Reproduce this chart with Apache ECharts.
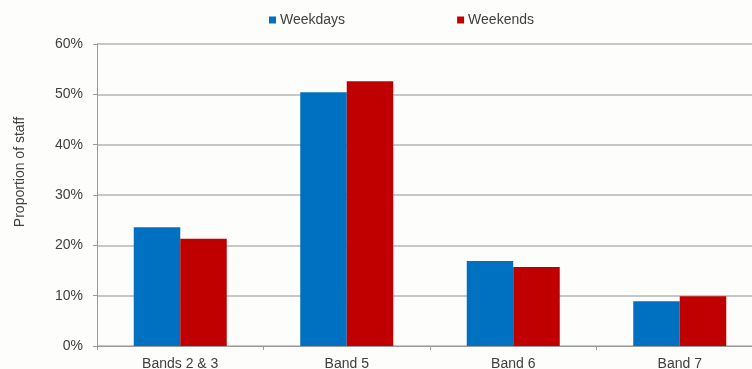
<!DOCTYPE html>
<html>
<head>
<meta charset="utf-8">
<script src="https://cdn.jsdelivr.net/npm/echarts@6/dist/echarts.min.js"></script>
<style>
  html, body { margin: 0; padding: 0; background: #fdfdfb; }
  #chart { width: 752px; height: 369px; }
</style>
</head>
<body>
<div id="chart"></div>
<script>
// Staffing mix by pay band, weekdays vs weekends (percent of staff)
const categories = ['Bands 2 & 3', 'Band 5', 'Band 6', 'Band 7'];
const weekdays = [23.6, 50.4, 16.9, 8.9];
const weekends = [21.3, 52.6, 15.7, 9.9];
const seriesNames = ['Weekdays', 'Weekends'];
const yTicks = { min: 0, max: 60, step: 10 };

const font = 'Liberation Sans, Arial, sans-serif';
const textColor = '#404040';
const gridColor = '#b4b4b4';

const chart = echarts.init(document.getElementById('chart'), null, { renderer: 'canvas' });

chart.setOption({
  backgroundColor: '#fdfdfb',
  animation: false,
  textStyle: { fontFamily: font, color: textColor },
  legend: {
    data: seriesNames,
    left: 269,
    top: 13,
    padding: 0,
    icon: 'rect',
    itemWidth: 7,
    itemHeight: 7,
    itemGap: 112,
    textStyle: { fontSize: 14, color: textColor, fontFamily: font, padding: [0, 0, 0, -1] }
  },
  grid: {
    left: 97,
    top: 44,
    width: 666,
    height: 302,
    containLabel: false,
    outerBoundsMode: 'none'
  },
  xAxis: {
    type: 'category',
    data: categories,
    axisLine: { show: true, lineStyle: { color: '#9a9a9a', width: 1 } },
    axisTick: { show: true, length: 4, lineStyle: { color: '#9a9a9a' } },
    axisLabel: { fontSize: 14, color: textColor, fontFamily: font, margin: 11 },
    splitLine: { show: false }
  },
  yAxis: {
    type: 'value',
    min: yTicks.min,
    max: yTicks.max,
    interval: yTicks.step,
    axisLine: { show: true, lineStyle: { color: '#9a9a9a', width: 1 } },
    axisTick: { show: true, length: 4, lineStyle: { color: '#9a9a9a' } },
    axisLabel: {
      formatter: '{value}%',
      fontSize: 14,
      color: textColor,
      fontFamily: font,
      margin: 14
    },
    splitLine: { show: true, lineStyle: { color: gridColor, width: 1.5 } }
  },
  graphic: [{
    type: 'text',
    x: 20,
    y: 172,
    rotation: Math.PI / 2,
    style: {
      text: 'Proportion of staff',
      fontSize: 14,
      fontFamily: font,
      fill: textColor,
      align: 'center',
      verticalAlign: 'middle'
    }
  }],
  series: [
    {
      name: seriesNames[0],
      type: 'bar',
      data: weekdays,
      barWidth: 46.5,
      barGap: '0%',
      itemStyle: { color: '#0070c0' }
    },
    {
      name: seriesNames[1],
      type: 'bar',
      data: weekends,
      barWidth: 46.5,
      barGap: '0%',
      itemStyle: { color: '#c00000' }
    }
  ]
});
</script>
</body>
</html>
